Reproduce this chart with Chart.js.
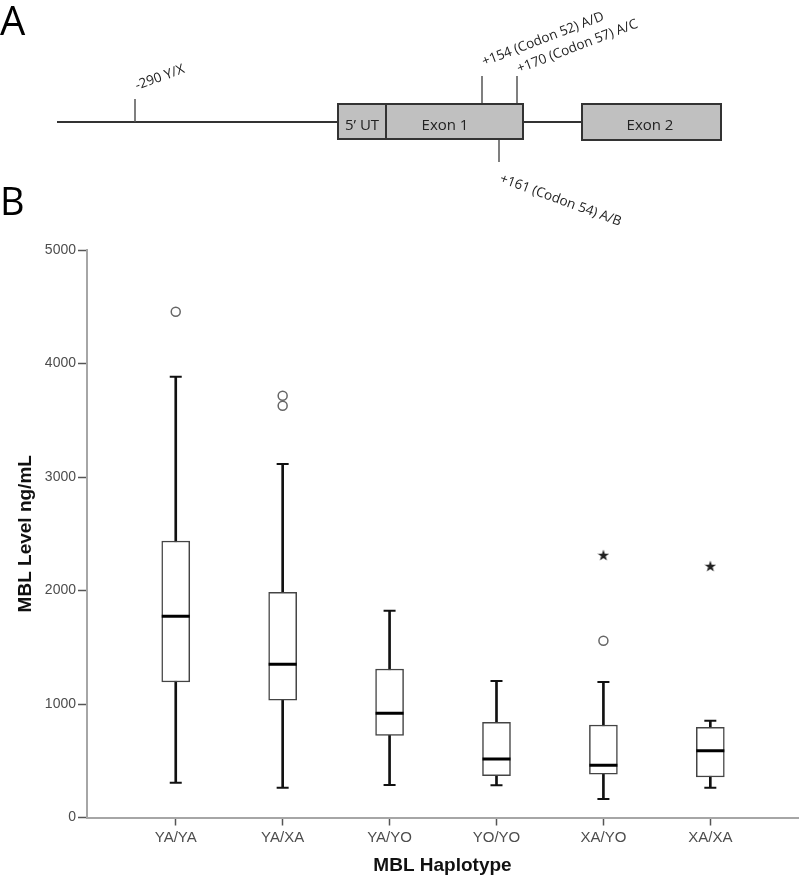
<!DOCTYPE html>
<html><head><meta charset="utf-8">
<script src="https://cdn.jsdelivr.net/npm/chart.js@4.4.1/dist/chart.umd.min.js"></script>
<style>
html,body{margin:0;padding:0;background:#fff;}
#wrap{position:relative;width:800px;height:877px;overflow:hidden;background:#fff;}
#c{position:absolute;left:0;top:0;}
#gene{position:absolute;left:0;top:0;}
#gene text{font-family:"Open Sans","DejaVu Sans",sans-serif;fill:#222;}
</style></head><body>
<div id="wrap">
<canvas id="c" width="800" height="877"></canvas>
<svg id="gene" width="800" height="240" xmlns="http://www.w3.org/2000/svg">
  <text x="0" y="35" style="font-size:40px;fill:#000">A</text>
  <text x="0" y="215" style="font-size:38px;fill:#000">B</text>
  <line x1="57" y1="122" x2="338" y2="122" stroke="#333" stroke-width="2"/>
  <line x1="523" y1="122" x2="582" y2="122" stroke="#333" stroke-width="2"/>
  <line x1="135" y1="99" x2="135" y2="122" stroke="#555" stroke-width="1.5"/>
  <line x1="482" y1="76" x2="482" y2="104" stroke="#555" stroke-width="1.5"/>
  <line x1="517" y1="76" x2="517" y2="104" stroke="#555" stroke-width="1.5"/>
  <line x1="499" y1="139" x2="499" y2="162" stroke="#555" stroke-width="1.5"/>
  <rect x="338" y="104" width="48" height="35" fill="#c0c0c0" stroke="#333" stroke-width="2"/>
  <rect x="386" y="104" width="137" height="35" fill="#c0c0c0" stroke="#333" stroke-width="2"/>
  <rect x="582" y="104" width="139" height="36" fill="#c0c0c0" stroke="#333" stroke-width="2"/>
  <text x="362" y="130" text-anchor="middle" style="font-size:15px">5’ UT</text>
  <text x="445" y="130" text-anchor="middle" style="font-size:15px">Exon 1</text>
  <text x="650" y="130" text-anchor="middle" style="font-size:15px">Exon 2</text>
  <text transform="translate(137,90) rotate(-20)" style="font-size:13.5px">-290 Y/X</text>
  <text transform="translate(484,66) rotate(-21)" style="font-size:13.5px">+154 (Codon 52) A/D</text>
  <text transform="translate(519,73) rotate(-21)" style="font-size:13.5px">+170 (Codon 57) A/C</text>
  <text transform="translate(499,182) rotate(20)" style="font-size:13.5px">+161 (Codon 54) A/B</text>
</svg>
</div>
<script>
const categories = ['YA/YA', 'YA/XA', 'YA/YO', 'YO/YO', 'XA/YO', 'XA/XA'];
const whiskerLow  = [307, 263, 286, 284, 163, 263];
const q1          = [1194, 1033, 724, 368, 381, 357];
const median      = [1773, 1350, 918, 515, 460, 589];
const q3          = [2436, 1984, 1308, 839, 815, 795];
const whiskerHigh = [3884, 3115, 1822, 1203, 1194, 853];
const outlierCat  = [0, 1, 1, 4];
const outlierVal  = [4456, 3716, 3628, 1558];
const extremeCat  = [4, 5];
const extremeVal  = [2313, 2216];
const yTicks      = [0, 1000, 2000, 3000, 4000, 5000];

function makeStar(size) {
  const c = document.createElement('canvas');
  c.width = size; c.height = size;
  const g = c.getContext('2d');
  g.fillStyle = '#222';
  g.beginPath();
  for (let k = 0; k < 10; k++) {
    const r = k % 2 ? size * 0.2 : size / 2;
    const a = -Math.PI / 2 + k * Math.PI / 5;
    g.lineTo(size / 2 + r * Math.cos(a), size / 2 + r * Math.sin(a) + size * 0.05);
  }
  g.closePath();
  g.fill();
  return c;
}

Chart.defaults.font.family = '"Liberation Sans", Arial, sans-serif';
Chart.defaults.color = '#4d4d4d';

const idx = categories.map((_, i) => i);

new Chart(document.getElementById('c'), {
  type: 'bar',
  data: {
    datasets: [
      {
        type: 'scatter', label: 'median', order: 1,
        data: idx.map(i => ({ x: i, y: median[i] })),
        pointStyle: 'line', pointRadius: 14, pointHoverRadius: 14, pointBorderWidth: 3, pointBorderColor: '#000'
      },
      {
        type: 'scatter', label: 'caps', order: 1,
        data: idx.map(i => ({ x: i, y: whiskerLow[i] })).concat(idx.map(i => ({ x: i, y: whiskerHigh[i] }))),
        pointStyle: 'line', pointRadius: 6, pointHoverRadius: 6, pointBorderWidth: 2, pointBorderColor: '#111'
      },
      {
        type: 'scatter', label: 'outliers', order: 1,
        data: outlierCat.map((c, k) => ({ x: c, y: outlierVal[k] })),
        pointStyle: 'circle', pointRadius: 4.5, pointHoverRadius: 4.5, pointBorderWidth: 1.5,
        pointBorderColor: '#666', pointBackgroundColor: 'rgba(255,255,255,0)'
      },
      {
        type: 'scatter', label: 'extremes', order: 1,
        data: extremeCat.map((c, k) => ({ x: c, y: extremeVal[k] })),
        pointStyle: makeStar(12), pointRadius: 6, pointHoverRadius: 6
      },
      {
        type: 'bar', label: 'box', order: 2, grouped: false,
        data: idx.map(i => ({ x: i, y: [q1[i], q3[i]] })),
        barThickness: 28, backgroundColor: '#fff', borderColor: '#444',
        borderWidth: 1.5, borderSkipped: false
      },
      {
        type: 'bar', label: 'whisker', order: 3, grouped: false,
        data: idx.map(i => ({ x: i, y: [whiskerLow[i], whiskerHigh[i]] })),
        barThickness: 2, backgroundColor: '#111', borderWidth: 0
      }
    ]
  },
  options: {
    responsive: false,
    animation: false,
    events: [],
    devicePixelRatio: 1,
    layout: { autoPadding: false, padding: { top: 250, right: 2, left: 0, bottom: 0 } },
    plugins: { legend: { display: false }, tooltip: { enabled: false } },
    scales: {
      x: {
        type: 'linear', min: -0.83, max: 5.82, offset: false,
        afterBuildTicks: s => { s.ticks = categories.map((_, i) => ({ value: i })); },
        afterFit: s => { s.height = 59.5; },
        ticks: { callback: v => categories[v], font: { size: 15 }, padding: 3, color: '#4d4d4d', maxRotation: 0 },
        grid: { display: true, drawOnChartArea: false, offset: false, tickLength: 8, tickColor: '#555', tickWidth: 1.5 },
        border: { display: true, color: '#a6a6a6', width: 2 },
        title: { display: true, text: 'MBL Haplotype', font: { size: 19, weight: 'bold' }, color: '#111', padding: { top: 0, bottom: 0 } }
      },
      y: {
        type: 'linear', min: 0, max: 5000,
        afterBuildTicks: s => { s.ticks = yTicks.map(v => ({ value: v })); },
        afterFit: s => { s.width = 87; },
        ticks: { callback: v => String(v), font: { size: 14 }, padding: 2, color: '#4d4d4d' },
        grid: { display: true, drawOnChartArea: false, tickLength: 9, tickColor: '#555', tickWidth: 1.5 },
        border: { display: true, color: '#a6a6a6', width: 2 },
        title: { display: true, text: 'MBL Level ng/mL', font: { size: 19, weight: 'bold' }, color: '#111', padding: { top: 14, bottom: 4 } }
      }
    }
  }
});
</script>
</body></html>
